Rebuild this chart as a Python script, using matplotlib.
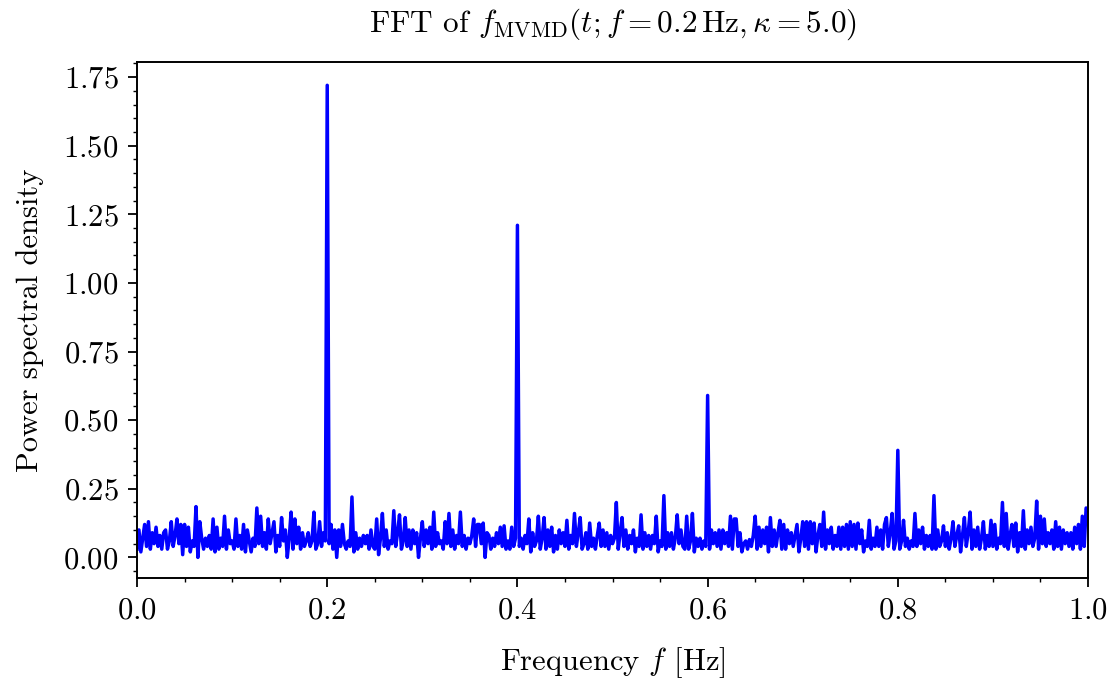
import matplotlib
matplotlib.use("Agg")
import matplotlib.pyplot as plt
import numpy as np
from matplotlib.ticker import MultipleLocator

plt.rcParams['font.family'] = 'serif'
plt.rcParams['font.serif'] = ['cmr10']
plt.rcParams['mathtext.fontset'] = 'cm'
plt.rcParams['axes.formatter.use_mathtext'] = True

# frequency grid step (0.002 Hz, 0 .. 1 Hz)
df = 0.002

# power spectral density, read segment by segment (5 values per 0.01 Hz)
psd = [
    0.03, 0.10, 0.02, 0.07, 0.12,   0.04, 0.13, 0.03, 0.09, 0.05,
    0.11, 0.04, 0.08, 0.03, 0.09,   0.10, 0.03, 0.06, 0.13, 0.04,
    0.08, 0.14, 0.05, 0.12, 0.01,   0.12, 0.04, 0.11, 0.02, 0.06,
    0.04, 0.185, 0.00, 0.13, 0.07,  0.03, 0.07, 0.04, 0.08, 0.03,
    0.14, 0.02, 0.11, 0.03, 0.07,   0.04, 0.15, 0.03, 0.10, 0.05,
    0.06, 0.03, 0.14, 0.04, 0.08,   0.03, 0.12, 0.02, 0.10, 0.06,
    0.02, 0.07, 0.04, 0.18, 0.05,   0.15, 0.04, 0.09, 0.03, 0.14,
    0.05, 0.09, 0.13, 0.02, 0.08,   0.04, 0.145, 0.06, 0.10, 0.00,
    0.07, 0.165, 0.03, 0.14, 0.05,  0.11, 0.03, 0.09, 0.04, 0.06,
    0.09, 0.04, 0.06, 0.165, 0.03,  0.05, 0.13, 0.04, 0.09, 0.06,
    # 0.2 Hz
    1.72, 0.05, 0.12, 0.03, 0.10,   0.00, 0.10, 0.04, 0.12, 0.05,
    0.03, 0.06, 0.04, 0.22, 0.02,   0.09, 0.03, 0.07, 0.04, 0.08,
    0.05, 0.08, 0.03, 0.10, 0.04,   0.03, 0.14, 0.01, 0.07, 0.16,
    0.04, 0.10, 0.03, 0.06, 0.05,   0.17, 0.04, 0.09, 0.155, 0.03,
    0.06, 0.145, 0.04, 0.10, 0.03,  0.10, 0.05, 0.09, 0.00, 0.07,
    0.13, 0.04, 0.10, 0.05, 0.11,   0.03, 0.165, 0.04, 0.09, 0.05,
    0.06, 0.03, 0.13, 0.05, 0.16,   0.04, 0.10, 0.03, 0.08, 0.05,
    0.165, 0.04, 0.08, 0.03, 0.07,  0.05, 0.08, 0.14, 0.04, 0.12,
    0.12, 0.05, 0.125, 0.00, 0.09,  0.08, 0.03, 0.07, 0.04, 0.09,
    0.05, 0.11, 0.04, 0.115, 0.03,  0.06, 0.03, 0.11, 0.04, 0.07,
    # 0.4 Hz
    1.21, 0.04, 0.07, 0.03, 0.08,   0.05, 0.14, 0.02, 0.09, 0.04,
    0.06, 0.15, 0.03, 0.07, 0.145,  0.03, 0.10, 0.04, 0.11, 0.02,
    0.08, 0.03, 0.10, 0.05, 0.09,   0.04, 0.135, 0.03, 0.08, 0.05,
    0.16, 0.04, 0.09, 0.145, 0.03,  0.05, 0.09, 0.03, 0.125, 0.04,
    0.07, 0.03, 0.08, 0.125, 0.04,  0.10, 0.04, 0.09, 0.03, 0.08,
    0.05, 0.07, 0.20, 0.03, 0.09,   0.145, 0.04, 0.10, 0.03, 0.08,
    0.05, 0.10, 0.02, 0.07, 0.04,   0.155, 0.03, 0.09, 0.04, 0.08,
    0.03, 0.08, 0.05, 0.15, 0.02,   0.06, 0.04, 0.225, 0.03, 0.09,
    0.04, 0.09, 0.03, 0.07, 0.155,  0.05, 0.10, 0.04, 0.03, 0.15,
    0.03, 0.06, 0.16, 0.02, 0.07,   0.04, 0.07, 0.03, 0.06, 0.04,
    # 0.6 Hz
    0.59, 0.03, 0.10, 0.05, 0.09,   0.04, 0.10, 0.03, 0.10, 0.05,
    0.09, 0.04, 0.15, 0.03, 0.14,   0.14, 0.04, 0.09, 0.02, 0.05,
    0.06, 0.03, 0.065, 0.04, 0.08,  0.15, 0.03, 0.11, 0.04, 0.10,
    0.05, 0.11, 0.02, 0.145, 0.04,  0.10, 0.04, 0.09, 0.135, 0.03,
    0.12, 0.03, 0.10, 0.05, 0.09,   0.04, 0.08, 0.12, 0.02, 0.07,
    0.13, 0.04, 0.13, 0.03, 0.13,   0.05, 0.125, 0.02, 0.08, 0.12,
    0.04, 0.165, 0.03, 0.10, 0.05,  0.11, 0.03, 0.08, 0.04, 0.11,
    0.03, 0.11, 0.04, 0.12, 0.03,   0.13, 0.04, 0.12, 0.03, 0.125,
    0.05, 0.10, 0.02, 0.06, 0.04,   0.135, 0.03, 0.07, 0.04, 0.11,
    0.04, 0.10, 0.03, 0.12, 0.145,  0.04, 0.09, 0.16, 0.03, 0.06,
    # 0.8 Hz
    0.39, 0.03, 0.06, 0.135, 0.04,  0.07, 0.03, 0.06, 0.04, 0.16,
    0.04, 0.10, 0.05, 0.11, 0.03,   0.08, 0.04, 0.08, 0.03, 0.225,
    0.03, 0.10, 0.04, 0.06, 0.115,  0.04, 0.09, 0.03, 0.07, 0.13,
    0.04, 0.08, 0.115, 0.02, 0.08,  0.145, 0.04, 0.09, 0.165, 0.03,
    0.10, 0.04, 0.11, 0.03, 0.07,   0.13, 0.03, 0.08, 0.04, 0.135,
    0.04, 0.12, 0.03, 0.07, 0.05,   0.20, 0.04, 0.16, 0.03, 0.08,
    0.12, 0.04, 0.125, 0.02, 0.09,  0.04, 0.17, 0.03, 0.10, 0.05,
    0.11, 0.04, 0.07, 0.205, 0.03,  0.15, 0.05, 0.14, 0.04, 0.09,
    0.05, 0.10, 0.03, 0.13, 0.04,   0.11, 0.03, 0.10, 0.05, 0.09,
    0.04, 0.09, 0.03, 0.11, 0.05,   0.12, 0.03, 0.15, 0.04, 0.18,
    0.17,
]

freq = np.arange(len(psd)) * df

fig = plt.figure(figsize=(11.15, 6.84), dpi=100)
ax = fig.add_axes([0.1229, 0.155, 0.8529, 0.7544])

ax.plot(freq, psd, color='blue', linewidth=2.5)

ax.set_xlim(0, 1)
ax.set_ylim(-0.075, 1.805)
ax.xaxis.set_major_locator(MultipleLocator(0.2))
ax.xaxis.set_minor_locator(MultipleLocator(0.05))
ax.yaxis.set_major_locator(MultipleLocator(0.25))
ax.yaxis.set_minor_locator(MultipleLocator(0.05))
ax.tick_params(which='both', direction='out', top=False, right=False, labelsize=22, pad=7)
ax.tick_params(which='major', length=6.5, width=1.3)
ax.tick_params(which='minor', length=3, width=1.0)
for sp in ax.spines.values():
    sp.set_linewidth(1.4)

ax.set_title(r"FFT of $f_{\mathrm{MVMD}}(t; f=0.2\,\mathrm{Hz}, \kappa=5.0)$", fontsize=22.5, pad=22)
ax.set_xlabel(r"Frequency $f$ [Hz]", fontsize=22, labelpad=15)
ax.set_ylabel("Power spectral density", fontsize=22, labelpad=14)

fig.savefig("out.png", dpi=100)
